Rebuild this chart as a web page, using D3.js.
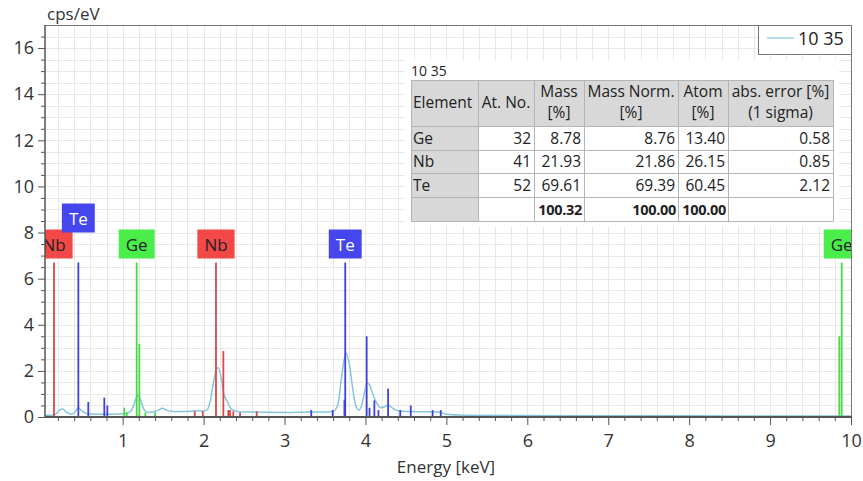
<!DOCTYPE html>
<html>
<head>
<meta charset="utf-8">
<script src="https://cdn.jsdelivr.net/npm/d3@7"></script>
<style>
  body { margin: 0; background: #fff; }
  svg text { font-family: "Open Sans", "Noto Sans", sans-serif; }
</style>
</head>
<body>
<svg id="chart" width="863" height="481"></svg>
<script>
// spectrum
const energy = [0.04,0.12,0.18,0.22,0.26,0.30,0.36,0.41,0.45,0.50,0.56,0.65,0.80,0.95,1.05,1.10,1.14,1.17,1.19,1.22,1.26,1.31,1.38,1.44,1.49,1.54,1.62,1.75,1.85,1.92,1.98,2.04,2.08,2.12,2.16,2.18,2.22,2.25,2.29,2.34,2.42,2.50,2.70,3.00,3.30,3.50,3.60,3.66,3.70,3.74,3.76,3.80,3.84,3.88,3.92,3.96,3.99,4.02,4.05,4.09,4.14,4.19,4.24,4.28,4.33,4.40,4.50,4.70,4.90,5.00,5.20,6.00,7.00,8.00,9.00,9.80,10.0];
const cps    = [0.08,0.08,0.15,0.30,0.35,0.22,0.12,0.22,0.40,0.25,0.14,0.12,0.12,0.13,0.16,0.25,0.55,0.85,0.95,0.75,0.35,0.20,0.22,0.30,0.38,0.30,0.24,0.24,0.25,0.27,0.26,0.30,0.65,1.45,2.10,2.14,1.65,1.00,0.70,0.35,0.24,0.22,0.21,0.20,0.22,0.22,0.24,0.55,1.60,2.55,2.77,2.30,1.30,0.50,0.30,0.60,1.10,1.47,1.40,1.00,0.60,0.40,0.45,0.52,0.40,0.27,0.24,0.23,0.22,0.12,0.08,0.06,0.05,0.05,0.04,0.04,0.04];

// element lines [keV, height]
const nbLines = [[0.151,6.7],[2.153,6.7],[2.244,2.86],[1.89,0.25],[1.99,0.25],[2.305,0.3],[2.326,0.3],[2.367,0.25],[2.45,0.2],[2.656,0.25]];
const teLines = [[0.452,6.7],[0.575,0.65],[0.773,0.84],[0.81,0.5],[3.33,0.3],[3.595,0.3],[3.75,6.7],[3.74,0.75],[4.015,3.5],[4.05,0.4],[4.11,0.72],[4.16,0.3],[4.28,1.23],[4.43,0.3],[4.56,0.5],[4.83,0.3],[4.93,0.3]];
const geLines = [[1.173,6.7],[1.206,3.17],[1.02,0.4],[1.05,0.2],[1.28,0.2],[1.40,0.2],[9.885,6.7],[9.856,3.5]];

// labels: [element, keV, raised]
const peakLabels = [["Nb",0.151,false],["Te",0.452,true],["Ge",1.173,false],["Nb",2.153,false],["Te",3.75,false],["Ge",9.885,false]];

// quantification table
const tableTitle = "10 35";
const elements = ["Ge","Nb","Te"];
const atNo = ["32","41","52"];
const mass = ["8.78","21.93","69.61"];
const massNorm = ["8.76","21.86","69.39"];
const atom = ["13.40","26.15","60.45"];
const absErr = ["0.58","0.85","2.12"];
const totals = ["","","100.32","100.00","100.00",""];
const headers = [["Element"],["At. No."],["Mass","[%]"],["Mass Norm.","[%]"],["Atom","[%]"],["abs. error [%]","(1 sigma)"]];

const xTicks = [1,2,3,4,5,6,7,8,9,10];
const yTicks = [0,2,4,6,8,10,12,14,16];

const colors = {
  Nb: {line:"#d84848", box:"#f24848", text:"#222"},
  Te: {line:"#4040dc", box:"#4646ee", text:"#fff"},
  Ge: {line:"#48d848", box:"#4aee4a", text:"#222"}
};

const svg = d3.select("#chart");
const L = 45, R = 851, T = 25, B = 417;
const x = d3.scaleLinear().domain([0.04, 10]).range([L, R]);
const y = d3.scaleLinear().domain([0, 17]).range([B, T]);

svg.append("defs").append("clipPath").attr("id","plotclip")
  .append("rect").attr("x",L).attr("y",T).attr("width",R-L).attr("height",B-T);

// grid
const grid = svg.append("g").attr("stroke","#e8e8e8").attr("stroke-width",1);
d3.range(0.2, 10, 0.2).forEach(v => {
  grid.append("line").attr("x1",Math.round(x(v))+0.5).attr("x2",Math.round(x(v))+0.5).attr("y1",T).attr("y2",B);
});
d3.range(0.5, 17, 0.5).forEach(v => {
  grid.append("line").attr("x1",L).attr("x2",R).attr("y1",Math.round(y(v))+0.5).attr("y2",Math.round(y(v))+0.5);
});

// axes
const minorX = d3.range(0.2, 10, 0.2).filter(v => Math.abs(v - Math.round(v)) > 0.01);
svg.append("g").attr("transform",`translate(0,${B})`)
  .call(d3.axisBottom(x).tickValues(minorX).tickSize(4).tickFormat(""))
  .call(g => g.select(".domain").remove())
  .call(g => g.selectAll("line").attr("stroke","#555"));
svg.append("g").attr("transform",`translate(0,${B})`)
  .call(d3.axisBottom(x).tickValues(xTicks).tickSize(8).tickPadding(9).tickFormat(d3.format("d")))
  .call(g => g.select(".domain").remove())
  .call(g => g.selectAll("line").attr("stroke","#555"))
  .call(g => g.selectAll("text").attr("font-size",18).attr("fill","#333").attr("font-family","Open Sans"));

const minorY = d3.range(0.5, 17, 0.5).filter(v => v % 2 !== 0);
svg.append("g").attr("transform",`translate(${L},0)`)
  .call(d3.axisLeft(y).tickValues(minorY).tickSize(4).tickFormat(""))
  .call(g => g.select(".domain").remove())
  .call(g => g.selectAll("line").attr("stroke","#555"));
svg.append("g").attr("transform",`translate(${L},0)`)
  .call(d3.axisLeft(y).tickValues(yTicks).tickSize(7).tickPadding(4).tickFormat(d3.format("d")))
  .call(g => g.select(".domain").remove())
  .call(g => g.selectAll("line").attr("stroke","#555"))
  .call(g => g.selectAll("text").attr("font-size",18).attr("fill","#333").attr("font-family","Open Sans"));

// frame
svg.append("line").attr("x1",L).attr("x2",R).attr("y1",T+0.5).attr("y2",T+0.5).attr("stroke","#777");
svg.append("line").attr("x1",R+0.5).attr("x2",R+0.5).attr("y1",T).attr("y2",B).attr("stroke","#777");

const plot = svg.append("g").attr("clip-path","url(#plotclip)");

// spectrum
const line = d3.line().x((d,i) => x(energy[i])).y(d => y(d)).curve(d3.curveMonotoneX);
plot.append("path").datum(cps).attr("d",line).attr("fill","none")
  .attr("stroke","#86c6dc").attr("stroke-width",1.5);

// element lines
[["Nb",nbLines],["Te",teLines],["Ge",geLines]].forEach(([el, arr]) => {
  plot.selectAll(null).data(arr).enter().append("line")
    .attr("x1", d => x(d[0])).attr("x2", d => x(d[0]))
    .attr("y1", y(0)).attr("y2", d => y(d[1]))
    .attr("stroke", colors[el].line).attr("stroke-width", 1.8);
});

// labels
peakLabels.forEach(([el, e, raised]) => {
  const cx = x(e);
  const yb = y(6.7) - 4 - (raised ? 26 : 0);
  const g = plot.append("g");
  const t = g.append("text").attr("x",cx).attr("y",yb-8).attr("text-anchor","middle")
    .attr("font-size",17).attr("fill",colors[el].text).text(el);
  const w = t.node().getComputedTextLength() + 14;
  g.insert("rect","text").attr("x",cx-w/2).attr("y",yb-29).attr("width",w).attr("height",29)
    .attr("fill",colors[el].box);
});

// axis bottom/left lines
svg.append("line").attr("x1",L).attr("x2",R+1).attr("y1",B).attr("y2",B).attr("stroke","#555").attr("stroke-width",2);
svg.append("line").attr("x1",L).attr("x2",L).attr("y1",T).attr("y2",B+1).attr("stroke","#555").attr("stroke-width",1.5);

// axis titles
svg.append("text").attr("x",47).attr("y",20).attr("font-size",17).attr("fill","#333").text("cps/eV");
svg.append("text").attr("x",446).attr("y",473).attr("text-anchor","middle").attr("font-size",17).attr("fill","#333").text("Energy [keV]");

// legend
const lg = svg.append("g");
lg.append("rect").attr("x",758.5).attr("y",T+0.5).attr("width",R-758).attr("height",29).attr("fill","#fff").attr("stroke","#777");
lg.append("line").attr("x1",767).attr("x2",794).attr("y1",38).attr("y2",38).attr("stroke","#9fd0e2").attr("stroke-width",1.5);
lg.append("text").attr("x",798).attr("y",45).attr("font-size",18).attr("fill","#222").text(tableTitle);

// table
const colX = [411, 478, 534, 584, 678, 728, 833];
const rowY = [80, 126, 150, 173, 197, 221];
const tb = svg.append("g").attr("font-size",15.5);
tb.append("rect").attr("x",405).attr("y",60).attr("width",434).attr("height",166).attr("fill","#fff");
tb.append("text").attr("x",411).attr("y",76).attr("font-size",14).attr("fill","#222").text(tableTitle);

const rows = elements.map((el,i) => [el, atNo[i], mass[i], massNorm[i], atom[i], absErr[i]]);
rows.push(totals);

// cell backgrounds
for (let r = 0; r < 5; r++) {
  for (let c = 0; c < 6; c++) {
    const gray = (r === 0 || c === 0);
    tb.append("rect").attr("x",colX[c]+0.5).attr("y",rowY[r]+0.5)
      .attr("width",colX[c+1]-colX[c]).attr("height",rowY[r+1]-rowY[r])
      .attr("fill", gray ? "#d8d8d8" : "#fff").attr("stroke","#b4b4b4");
  }
}
headers.forEach((h,c) => {
  const cx = (colX[c]+colX[c+1])/2;
  if (h.length === 1) {
    tb.append("text").attr("x", c === 0 ? colX[c]+2 : cx).attr("y",108)
      .attr("text-anchor", c === 0 ? "start" : "middle").attr("fill","#222").text(h[0]);
  } else {
    h.forEach((s,k) => tb.append("text").attr("x",cx).attr("y",97+k*21)
      .attr("text-anchor","middle").attr("fill","#222").text(s));
  }
});
rows.forEach((row,r) => {
  const bold = r === 3;
  row.forEach((v,c) => {
    if (!v) return;
    tb.append("text")
      .attr("x", c === 0 ? colX[c]+2 : colX[c+1]-(bold ? 2 : 3))
      .attr("y", rowY[r+2]-6)
      .attr("text-anchor", c === 0 ? "start" : "end")
      .attr("font-weight", bold ? "bold" : "normal")
      .attr("font-size", bold ? 14.5 : null)
      .attr("letter-spacing", bold ? -0.3 : null)
      .attr("fill","#222").text(v);
  });
});
</script>
</body>
</html>
